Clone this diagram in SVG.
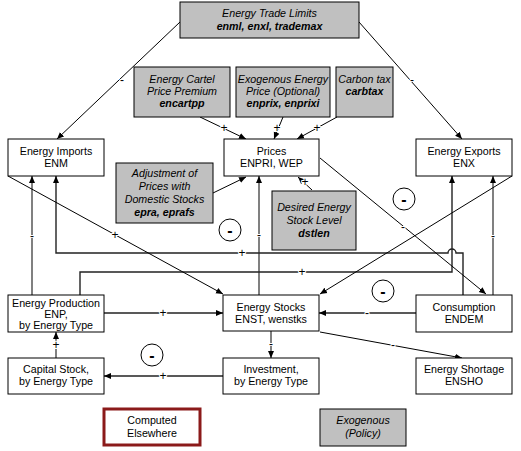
<svg xmlns="http://www.w3.org/2000/svg" width="521" height="451" viewBox="0 0 521 451">
<defs>
<marker id="ah" markerWidth="8" markerHeight="8" refX="7" refY="4" orient="auto" markerUnits="userSpaceOnUse">
<path d="M0,1 L7,4 L0,7 Z" fill="#000"/>
</marker>
<style>
text{font-family:"Liberation Sans",Arial,sans-serif;font-size:10.7px;text-anchor:middle;fill:#000}
.it{font-style:italic}
.b{font-weight:bold;font-style:italic}
.box{fill:#fff;stroke:#000;stroke-width:1}
.ex{fill:#c0c0c0;stroke:#000;stroke-width:1}
.ce{fill:#fff;stroke:#8b1a1a;stroke-width:3}
.c{fill:none;stroke:#000;stroke-width:1;marker-end:url(#ah)}
.t{fill:none;stroke:#222;stroke-width:1.4;marker-end:url(#ah)}
.g{fill:none;stroke:#808080;stroke-width:2;marker-end:url(#ah)}
.lb{font-size:12px;paint-order:stroke;stroke:#fff;stroke-width:2px;stroke-linejoin:round}
.circ{fill:#fff;stroke:#000;stroke-width:1}
.m{font-size:16px;font-weight:bold}
</style>
</defs>
<rect width="521" height="451" fill="#fff"/>

<g id="connectors">
<path class="c" d="M180,22 L57,139"/>
<path class="c" d="M359,22 L462,139"/>
<path class="c" d="M200,117 L246,139"/>
<path class="c" d="M283,117 L274,139"/>
<path class="c" d="M337,117 L297,139"/>
<path class="c" d="M213,193 L246,177"/>
<path class="c" d="M312,190 L298,177"/>
<path class="g" d="M259,295 L259,176"/>
<path class="g" d="M32,295 L32,176"/>
<path class="g" d="M493,295 L493,176"/>
<path class="t" d="M463,295 L463,253 L456,253 A4,4 0 0 0 448,253 L56,253 L56,176"/>
<path class="t" d="M80,295 L80,272 L452,272 L452,176"/>
<path class="c" d="M8,176 L223,294"/>
<path class="c" d="M512,176 L320,294"/>
<path class="c" d="M320,158 L486,294"/>
<path class="t" d="M104,313 L223,313"/>
<path class="t" d="M416,313 L319,313"/>
<path class="g" d="M271,331 L271,358"/>
<path class="t" d="M223,376 L104,376"/>
<path class="g" d="M56,358 L56,332"/>
<path class="c" d="M320,332 L462,358"/>
<g>
<text class="lb" x="122" y="84">-</text>
<text class="lb" x="412" y="84">-</text>
<text class="lb" x="224" y="132">+</text>
<text class="lb" x="277" y="132">+</text>
<text class="lb" x="317" y="132">+</text>
<text class="lb" x="305" y="186">+</text>
<text class="lb" x="259" y="239">-</text>
<text class="lb" x="32" y="240">-</text>
<text class="lb" x="493" y="240">-</text>
<text class="lb" x="242" y="257">+</text>
<text class="lb" x="302" y="276">+</text>
<text class="lb" x="115" y="239">+</text>
<text class="lb" x="403" y="231">-</text>
<text class="lb" x="163" y="317">+</text>
<text class="lb" x="367" y="317">-</text>
<text class="lb" x="271" y="348">-</text>
<text class="lb" x="163" y="380">+</text>
<text class="lb" x="56" y="349">+</text>
<text class="lb" x="393" y="349">-</text>
</g>
<g>
<circle class="circ" cx="230" cy="230" r="11"/><text class="m" x="230" y="236">-</text>
<circle class="circ" cx="404" cy="199" r="11"/><text class="m" x="404" y="205">-</text>
<circle class="circ" cx="383" cy="291" r="11"/><text class="m" x="383" y="297">-</text>
<circle class="circ" cx="152" cy="355" r="11"/><text class="m" x="152" y="361">-</text>
</g>
</g>

<g id="trade-limits">
<rect class="ex" x="180" y="2" width="179" height="36"/>
<text class="it" x="269.5" y="17">Energy Trade Limits</text>
<text class="b" x="269.5" y="30">enml, enxl, trademax</text>
</g>
<g id="cartel">
<rect class="ex" x="134" y="67" width="96" height="50"/>
<text class="it" x="182" y="83">Energy Cartel</text>
<text class="it" x="182" y="95">Price Premium</text>
<text class="b" x="182" y="107">encartpp</text>
</g>
<g id="exo-price">
<rect class="ex" x="236" y="67" width="94" height="50"/>
<text class="it" x="283" y="83">Exogenous Energy</text>
<text class="it" x="283" y="95">Price (Optional)</text>
<text class="b" x="283" y="107">enprix, enprixi</text>
</g>
<g id="carbon-tax">
<rect class="ex" x="336" y="67" width="57" height="50"/>
<text class="it" x="364.5" y="83">Carbon tax</text>
<text class="b" x="364.5" y="95">carbtax</text>
</g>
<g id="imports">
<rect class="box" x="8" y="139" width="96" height="37"/>
<text x="56" y="155">Energy Imports</text>
<text x="56" y="167">ENM</text>
</g>
<g id="prices">
<rect class="box" x="224" y="139" width="95" height="37"/>
<text x="271.5" y="155">Prices</text>
<text x="271.5" y="167">ENPRI, WEP</text>
</g>
<g id="exports">
<rect class="box" x="416" y="139" width="96" height="37"/>
<text x="464" y="155">Energy Exports</text>
<text x="464" y="167">ENX</text>
</g>
<g id="adjustment">
<rect class="ex" x="116" y="163" width="97" height="60"/>
<text class="it" x="164.5" y="177">Adjustment of</text>
<text class="it" x="164.5" y="190">Prices with</text>
<text class="it" x="164.5" y="203">Domestic Stocks</text>
<text class="b" x="164.5" y="216">epra, eprafs</text>
</g>
<g id="desired">
<rect class="ex" x="272" y="191" width="84" height="59"/>
<text class="it" x="314" y="211">Desired Energy</text>
<text class="it" x="314" y="224">Stock Level</text>
<text class="b" x="314" y="237">dstlen</text>
</g>
<g id="production">
<rect class="box" x="8" y="295" width="96" height="37"/>
<text x="56" y="307">Energy Production</text>
<text x="56" y="318">ENP,</text>
<text x="56" y="329">by Energy Type</text>
</g>
<g id="stocks">
<rect class="box" x="223" y="295" width="96" height="36"/>
<text x="271" y="311">Energy Stocks</text>
<text x="271" y="323">ENST, wenstks</text>
</g>
<g id="consumption">
<rect class="box" x="416" y="295" width="96" height="37"/>
<text x="464" y="311">Consumption</text>
<text x="464" y="323">ENDEM</text>
</g>
<g id="capital">
<rect class="box" x="8" y="358" width="96" height="36"/>
<text x="56" y="373">Capital Stock,</text>
<text x="56" y="385">by Energy Type</text>
</g>
<g id="investment">
<rect class="box" x="223" y="358" width="96" height="36"/>
<text x="271" y="373">Investment,</text>
<text x="271" y="385">by Energy Type</text>
</g>
<g id="shortage">
<rect class="box" x="416" y="358" width="96" height="36"/>
<text x="464" y="373">Energy Shortage</text>
<text x="464" y="385">ENSHO</text>
</g>
<g id="computed">
<rect class="ce" x="104" y="409" width="96" height="36"/>
<text x="152" y="424">Computed</text>
<text x="152" y="437">Elsewhere</text>
</g>
<g id="exogenous">
<rect class="ex" x="320" y="409" width="86" height="37"/>
<text class="it" x="363" y="424">Exogenous</text>
<text class="it" x="363" y="437">(Policy)</text>
</g>
</svg>
